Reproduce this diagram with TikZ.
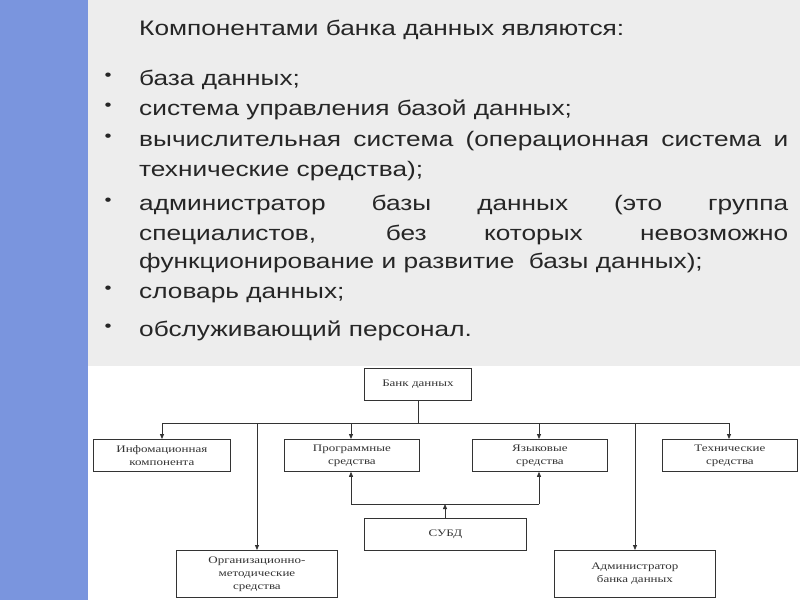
\documentclass[tikz,border=0pt]{standalone}
\usepackage{fontspec}
\setmainfont[FakeStretch=1.25]{Liberation Sans}
\newfontfamily\boxfont[FakeStretch=1.3]{Liberation Serif}
\usetikzlibrary{arrows.meta}
\begin{document}
\begin{tikzpicture}[x=1pt,y=-1pt,
  bx/.style={draw=black!80,line width=0.8pt,fill=white,inner sep=0pt,anchor=north west},
  bt/.style={font=\boxfont\fontsize{10}{13}\selectfont,align=center,text=black!80},
  ln/.style={draw=black!80,line width=0.8pt},
  ar/.style={ln,-{Triangle[length=5pt,width=4pt]}},
  bl/.style={anchor=base west,inner sep=0pt,font=\fontsize{21}{30}\selectfont,text=black!85},
  dot/.style={anchor=center,font=\fontsize{16}{16}\selectfont,text=black!85}]
\useasboundingbox (0,0) rectangle (800,600);
\fill[white] (0,0) rectangle (800,600);
\fill[black!7] (88,0) rectangle (800,366);
\fill[color={rgb,255:red,122;green,149;blue,222}] (0,0) rectangle (88,600);
% text
\node[bl] (title) at (139,35) {Компонентами банка данных являются:};
\node[bl] (l1) at (139,85) {база данных;};
\node[bl] (l2) at (139,115) {система управления базой данных;};
\node[bl] (l3) at (139,146) {\makebox[649pt][s]{вычислительная система (операционная система и}};
\node[bl] (l4) at (139,176) {технические средства);};
\node[bl] (l5) at (139,210) {\makebox[649pt][s]{администратор базы данных (это группа}};
\node[bl] (l6) at (139,240) {\makebox[649pt][s]{специалистов, без которых невозможно}};
\node[bl] (l7) at (139,268) {функционирование и развитие\ \ базы данных);};
\node[bl] (l8) at (139,298) {словарь данных;};
\node[bl] (l9) at (139,336) {обслуживающий персонал.};
\foreach \y [count=\i] in {77,107,138,202,290,328}{
  \node[dot] (b\i) at (108,\y) {•};
}
% boxes
\node[bx,minimum width=107pt,minimum height=32pt] (bank) at (364,368) {};
\node[bt] at (bank.center) (bankt) {Банк данных};
\node[bx,minimum width=137pt,minimum height=32pt] (info) at (93,439) {};
\node[bt] at (info.center) (infot) {Инфомационная\\компонента};
\node[bx,minimum width=135pt,minimum height=32pt] (prog) at (284,439) {};
\node[bt] at (prog.center) (progt) {Программные\\средства};
\node[bx,minimum width=135pt,minimum height=32pt] (lang) at (472,439) {};
\node[bt] at (lang.center) (langt) {Языковые\\средства};
\node[bx,minimum width=135pt,minimum height=32pt] (tech) at (662,439) {};
\node[bt] at (tech.center) (techt) {Технические\\средства};
\node[bx,minimum width=162pt,minimum height=32pt] (subd) at (364,518) {};
\node[bt] at (subd.center) (subdt) {СУБД};
\node[bx,minimum width=161pt,minimum height=47pt] (org) at (176,550) {};
\node[bt] at (org.center) (orgt) {Организационно-\\методические\\средства};
\node[bx,minimum width=161pt,minimum height=47pt] (adm) at (554,550) {};
\node[bt] at (adm.center) (admt) {Администратор\\банка данных};
% connectors
\coordinate (busL) at (162,423);
\coordinate (busR) at (729,423);
\draw[ln] (bank.south) -- (bank.south |- busL);
\draw[ln] (busL) -- (busR);
\draw[ar] (busL) -- (info.north -| busL);
\draw[ar] (351,423) -- (prog.north -| 351,0);
\draw[ar] (539,423) -- (lang.north -| 539,0);
\draw[ar] (busR) -- (tech.north -| busR);
\draw[ar] (257,423) -- (org.north -| 257,0);
\draw[ar] (635,423) -- (adm.north -| 635,0);
\coordinate (sj) at (445,504);
\draw[ar] (subd.north -| sj) -- (sj);
\draw[ar] (351,504) -- (prog.south -| 351,0);
\draw[ar] (539,504) -- (lang.south -| 539,0);
\draw[ln] (351,504) -- (539,504);
\end{tikzpicture}
\end{document}
